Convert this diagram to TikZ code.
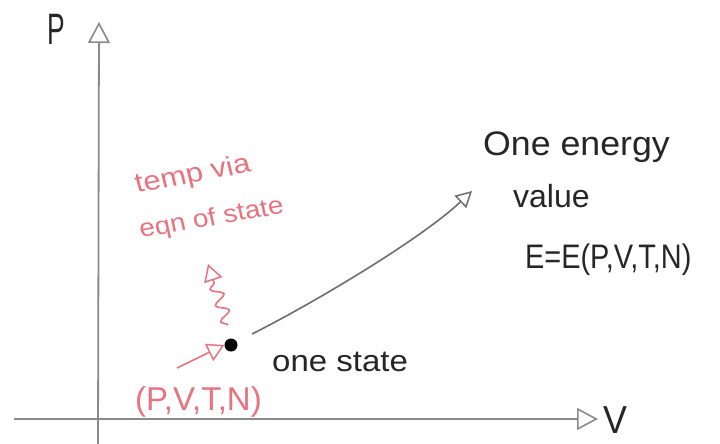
\documentclass[tikz,border=0pt]{standalone}
\usepackage{fontspec}
\setmainfont{Liberation Sans}
\usetikzlibrary{arrows.meta,decorations.pathmorphing}
\definecolor{pinkink}{HTML}{E8737F}
\definecolor{axisgrey}{HTML}{8A8A8A}
\definecolor{curvegrey}{HTML}{6E6E6E}
\tikzset{
  axisline/.style={draw=axisgrey,line width=1.8pt,-{Triangle[open,length=21pt,width=22pt,line width=1.6pt]}},
  blacktext/.style={text=black!85,inner sep=0pt,anchor=base west},
  pinktext/.style={text=pinkink,inner sep=0pt,anchor=base west},
  pinkarrow/.style={draw=pinkink,line width=1.6pt,-{Triangle[open,length=17pt,width=19pt,line width=1.5pt]}},
  greyarrow/.style={draw=curvegrey,line width=1.6pt,-{Triangle[open,length=16pt,width=17pt,line width=1.5pt]}}
}
\begin{document}
\begin{tikzpicture}[x=1pt,y=-1pt]
\useasboundingbox[fill=white] (0,0) rectangle (720,444);
% axes
\coordinate (ybot) at (98,444);
\coordinate (ytop) at (99,22);
\coordinate (xleft) at (14,419);
\coordinate (xright) at (598,419);
\draw[axisline] (ybot) -- (ytop);
\draw[axisline] (xleft) -- (xright);
\node[blacktext,font=\fontsize{44}{48}\selectfont,xscale=0.6] (plabel) at (47,45) {P};
\node[blacktext,font=\fontsize{39}{44}\selectfont,xscale=0.92] (vlabel) at (603,433) {V};
% state dot
\node[circle,fill=black,inner sep=0pt,minimum size=13pt] (state) at (231,345) {};
\node[blacktext,font=\fontsize{30}{34}\selectfont,xscale=1.1] (statelabel) at (272,371) {one state};
% energy text
\node[blacktext,font=\fontsize{34}{38}\selectfont,xscale=1.05] (one) at (483,155) {One energy};
\node[blacktext,font=\fontsize{32}{36}\selectfont] (value) at (513,207) {value};
\node[blacktext,font=\fontsize{34}{38}\selectfont,xscale=0.85] (eeq) at (525,268) {E=E(P,V,T,N)};
\coordinate (cstart) at (252,334);
\coordinate (etip) at (472,191);
\draw[greyarrow] (cstart) .. controls (310,305) and (420,240) .. (etip);
% pink annotations
\node[pinktext,font=\fontsize{27}{30}\selectfont,xscale=1.15,rotate=12] (temp) at (137,193) {temp via};
\node[pinktext,font=\fontsize{25}{28}\selectfont,xscale=1.12,rotate=11] (eqn) at (141,238) {eqn of state};
\coordinate (wbot) at (228,325);
\coordinate (wtop) at (208,264);
\draw[pinkarrow,decorate,decoration={snake,amplitude=6pt,segment length=17pt,post length=18pt}] (wbot) -- (wtop);
\coordinate (pstart) at (177,368);
\draw[pinkarrow] (pstart) -- (state.west);
\node[pinktext,font=\fontsize{33}{37}\selectfont] (tuple) at (135,410) {(P,V,T,N)};
\end{tikzpicture}
\end{document}
